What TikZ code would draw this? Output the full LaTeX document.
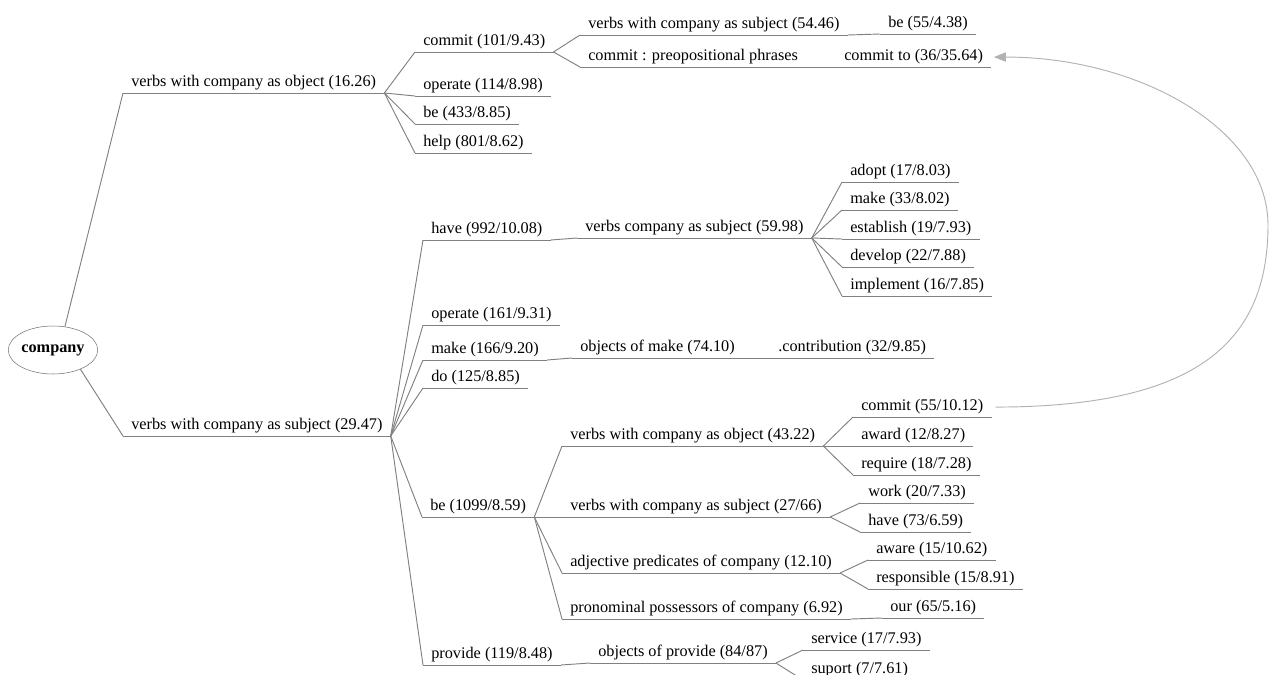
\documentclass[tikz,border=0pt]{standalone}
\usepackage{fontspec}
\setmainfont{Liberation Serif}
\usepackage{tikz}
\usetikzlibrary{arrows.meta,positioning,shapes.geometric}

\begin{document}
\begin{tikzpicture}[
    x=0.75pt, y=-0.75pt,
    font=\fontsize{12.2}{14}\selectfont,
    term/.style={
        anchor=south west,
        inner xsep=6pt,
        inner ysep=1.5pt,
        text height=8.5pt,
        text depth=3pt
    },
    root/.style={
        draw=black!55,
        ellipse,
        inner sep=0pt,
        minimum width=65pt,
        minimum height=36pt,
        font=\fontsize{12.2}{14}\selectfont\bfseries
    },
    branch/.style={draw=black!50, line width=0.7pt},
    backlink/.style={draw=black!30, line width=0.7pt, -{Triangle[length=9pt,width=7pt]}}
]

\useasboundingbox (0,0) rectangle (1272,675);

% Root
\node[root] (company) at (53,350) {company};

% First level
\node[term] (obj) at (123,93) {verbs with company as object (16.26)};
\node[term] (subj) at (123,436) {verbs with company as subject (29.47)};

% Verbs with company as object
\node[term] (commitA) at (415,52) {commit (101/9.43)};
\node[term] (operateA) at (415,96) {operate (114/8.98)};
\node[term] (beA) at (415,124) {be (433/8.85)};
\node[term] (helpA) at (415,153) {help (801/8.62)};

\node[term] (subjA) at (580,35) {verbs with company as subject (54.46)};
\node[term] (prep) at (580,67) {commit : preopositional phrases};
\node[term] (beB) at (880,34) {be (55/4.38)};
\node[term] (committo) at (836,67) {commit to (36/35.64)};

% Verbs with company as subject
\node[term] (haveA) at (423,240) {have (992/10.08)};
\node[term] (operateB) at (423,325) {operate (161/9.31)};
\node[term] (makeA) at (423,360) {make (166/9.20)};
\node[term] (doA) at (423,388) {do (125/8.85)};
\node[term] (beC) at (422,517) {be (1099/8.59)};
\node[term] (provide) at (423,665) {provide (119/8.48)};

\node[term] (subjB) at (577,238) {verbs company as subject (59.98)};
\node[term] (adopt) at (842,182) {adopt (17/8.03)};
\node[term] (makeB) at (842,210) {make (33/8.02)};
\node[term] (establish) at (842,239) {establish (19/7.93)};
\node[term] (develop) at (842,267) {develop (22/7.88)};
\node[term] (implement) at (842,296) {implement (16/7.85)};

\node[term] (objmake) at (572,358) {objects of make (74.10)};
\node[term] (contrib) at (770,358) {.contribution (32/9.85)};

\node[term] (objB) at (562,446) {verbs with company as object (43.22)};
\node[term] (subjC) at (562,517) {verbs with company as subject (27/66)};
\node[term] (adj) at (562,573) {adjective predicates of company (12.10)};
\node[term] (pron) at (562,619) {pronominal possessors of company (6.92)};

\node[term] (commitB) at (853,417) {commit (55/10.12)};
\node[term] (award) at (853,446) {award (12/8.27)};
\node[term] (require) at (853,475) {require (18/7.28)};
\node[term] (work) at (860,503) {work (20/7.33)};
\node[term] (haveB) at (860,532) {have (73/6.59)};
\node[term] (aware) at (868,560) {aware (15/10.62)};
\node[term] (responsible) at (868,589) {responsible (15/8.91)};
\node[term] (our) at (882,618) {our (65/5.16)};

\node[term] (objprov) at (590,663) {objects of provide (84/87)};
\node[term] (service) at (803,650) {service (17/7.93)};
\node[term] (suport) at (803,680) {suport (7/7.61)};

% Underlines
\foreach \n in {obj,subj,commitA,operateA,beA,helpA,subjA,prep,beB,committo,
    haveA,operateB,makeA,doA,beC,provide,subjB,adopt,makeB,establish,develop,
    implement,objmake,contrib,objB,subjC,adj,pron,commitB,award,require,work,
    haveB,aware,responsible,our,objprov,service,suport}
    \draw[branch] (\n.south west) -- (\n.south east);

% Branches
\draw[branch] (company.63) -- (obj.south west);
\draw[branch] (company.-35) -- (subj.south west);
\foreach \a/\b in {obj/commitA,obj/operateA,obj/beA,obj/helpA,
    commitA/subjA,commitA/prep,subjA/beB,prep/committo,
    subj/haveA,subj/operateB,subj/makeA,subj/doA,subj/beC,subj/provide,
    haveA/subjB,subjB/adopt,subjB/makeB,subjB/establish,subjB/develop,subjB/implement,
    makeA/objmake,objmake/contrib,
    beC/objB,beC/subjC,beC/adj,beC/pron,
    objB/commitB,objB/award,objB/require,
    subjC/work,subjC/haveB,adj/aware,adj/responsible,pron/our,
    provide/objprov,objprov/service,objprov/suport}
    \draw[branch] (\a.south east) -- (\b.south west);

% Link back to commit to
\draw[backlink] ([xshift=3pt]commitB.east)
    .. controls (1200,407) and (1268,340) .. (1268,225)
    .. controls (1268,130) and (1140,57) .. ([xshift=2pt]committo.east);

\end{tikzpicture}
\end{document}
